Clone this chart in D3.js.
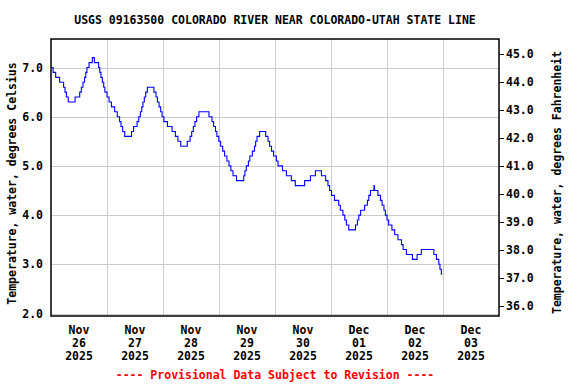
<!DOCTYPE html>
<html>
<head>
<meta charset="utf-8">
<script src="https://cdn.jsdelivr.net/npm/d3@7"></script>
<style>
  html, body { margin: 0; padding: 0; background: #fff; }
  svg { display: block; }
  text { font-family: "DejaVu Sans Mono", "Liberation Mono", monospace; font-weight: bold; font-size: 11.5px; fill: #000; }
</style>
</head>
<body>
<svg id="chart" width="576" height="384"></svg>
<script>
// ---- Data (hours after 2025-11-26 00:00, water temperature in °C; value holds until next time) ----
const hours = [
  0, 0.9, 2.0, 3.7, 5.4, 6.0, 6.6, 7.4, 10.3, 12.3, 13.0, 13.7, 14.4, 14.9, 15.4, 16.3, 17.7, 18.6,
  20.4, 20.9, 21.4, 22.0, 22.6, 23.1, 24.0, 24.9, 25.9, 27.3, 28.4, 29.4, 30.0, 30.7, 31.6, 34.5,
  35.4, 36.9, 37.6, 38.3, 38.9, 39.4, 40.0, 40.6, 41.3, 44.1, 45.0, 45.6, 46.3, 47.0, 47.6, 48.4,
  49.9, 51.9, 53.3, 54.4, 55.6, 58.4, 59.6, 60.3, 61.0, 61.7, 62.4, 63.4, 67.7, 69.0, 69.7, 70.5,
  71.1, 71.9, 72.7, 73.6, 74.4, 75.4, 76.3, 77.1, 78.0, 79.5, 82.6, 83.1, 83.7, 84.6, 85.2, 86.3,
  87.2, 87.7, 88.3, 89.4, 92.0, 93.0, 93.7, 94.5, 95.4, 96.6, 97.3, 99.2, 100.9, 103.0, 104.7, 108.7,
  111.2, 113.3, 115.9, 117.7, 118.7, 119.4, 120.2, 121.5, 123.3, 124.0, 125.1, 125.9, 126.6, 127.6, 130.5, 131.3,
  131.9, 132.7, 134.4, 135.6, 136.2, 136.9, 138.4, 138.6, 140.1, 141.2, 141.9, 142.7, 143.3, 144.0, 144.7, 146.1,
  147.3, 148.7, 150.2, 150.9, 152.3, 154.9, 156.9, 158.7, 164.1, 165.2, 166.2, 166.7, 167.3, 167.6
];
const tempC = [
  7.0, 6.9, 6.8, 6.7, 6.6, 6.5, 6.4, 6.3, 6.4, 6.5, 6.6, 6.7, 6.8, 6.9, 7.0, 7.1, 7.2, 7.1,
  7.0, 6.9, 6.8, 6.7, 6.6, 6.5, 6.4, 6.3, 6.2, 6.1, 6.0, 5.9, 5.8, 5.7, 5.6, 5.7,
  5.8, 5.9, 6.0, 6.1, 6.2, 6.3, 6.4, 6.5, 6.6, 6.5, 6.4, 6.3, 6.2, 6.1, 6.0, 5.9,
  5.8, 5.7, 5.6, 5.5, 5.4, 5.5, 5.6, 5.7, 5.8, 5.9, 6.0, 6.1, 6.0, 5.9, 5.8, 5.7,
  5.6, 5.5, 5.4, 5.3, 5.2, 5.1, 5.0, 4.9, 4.8, 4.7, 4.8, 4.9, 5.0, 5.1, 5.2, 5.3,
  5.4, 5.5, 5.6, 5.7, 5.6, 5.5, 5.4, 5.3, 5.2, 5.1, 5.0, 4.9, 4.8, 4.7, 4.6, 4.7,
  4.8, 4.9, 4.8, 4.7, 4.6, 4.5, 4.4, 4.3, 4.2, 4.1, 4.0, 3.9, 3.8, 3.7, 3.8, 3.9,
  4.0, 4.1, 4.2, 4.3, 4.4, 4.5, 4.6, 4.5, 4.4, 4.3, 4.2, 4.1, 4.0, 3.9, 3.8, 3.7,
  3.6, 3.5, 3.4, 3.3, 3.2, 3.1, 3.2, 3.3, 3.2, 3.1, 3.0, 2.9, 2.8, 2.8
];
const dayLabels = [
  ["Nov", "26", "2025"], ["Nov", "27", "2025"], ["Nov", "28", "2025"], ["Nov", "29", "2025"],
  ["Nov", "30", "2025"], ["Dec", "01", "2025"], ["Dec", "02", "2025"], ["Dec", "03", "2025"]
];
const celsiusTicks = [2, 3, 4, 5, 6, 7];
const fahrenheitTicks = [36, 37, 38, 39, 40, 41, 42, 43, 44, 45];
const titleText = "USGS 09163500 COLORADO RIVER NEAR COLORADO-UTAH STATE LINE";
const leftTitle = "Temperature, water, degrees Celsius";
const rightTitle = "Temperature, water, degrees Fahrenheit";
const footText = "---- Provisional Data Subject to Revision ----";

// ---- Layout ----
const plot = { left: 51, right: 499, top: 39, bottom: 316 };
const t0 = Date.UTC(2025, 10, 26, 0, 0);
const HOUR = 3600 * 1000;
const DAY = 24 * HOUR;

const svg = d3.select("#chart");

const x = d3.scaleUtc()
  .domain([new Date(t0), new Date(t0 + 8 * DAY)])
  .range([plot.left, plot.right]);
const yC = d3.scaleLinear().domain([2, 7]).range([313.5, 67.5]);
const yF = d3.scaleLinear().domain([36, 45]).range([306, 54]);

const data = hours.map((h, i) => ({ t: new Date(t0 + h * HOUR), v: tempC[i] }));

// gridlines
const grid = svg.append("g").attr("stroke", "#cccccc").attr("stroke-width", 1).attr("shape-rendering", "crispEdges");
const midnights = d3.range(1, 8).map(d => new Date(t0 + d * DAY));
grid.selectAll("line.v").data(midnights).join("line")
  .attr("x1", d => Math.round(x(d)) + 0.5).attr("x2", d => Math.round(x(d)) + 0.5)
  .attr("y1", plot.top).attr("y2", plot.bottom);
grid.selectAll("line.h").data(celsiusTicks).join("line")
  .attr("x1", plot.left).attr("x2", plot.right)
  .attr("y1", d => Math.round(yC(d)) + 0.5).attr("y2", d => Math.round(yC(d)) + 0.5);

// data line
svg.append("path")
  .datum(data)
  .attr("fill", "none")
  .attr("stroke", "#0000ff")
  .attr("stroke-width", 1.1)
  .attr("d", d3.line().x(d => x(d.t)).y(d => yC(d.v)).curve(d3.curveStepAfter));

// frame
svg.append("rect")
  .attr("x", plot.left).attr("y", plot.top)
  .attr("width", plot.right - plot.left).attr("height", plot.bottom - plot.top)
  .attr("fill", "none").attr("stroke", "#000").attr("stroke-width", 1.5);

// left axis labels (Celsius)
const leftAxis = d3.axisLeft(yC).tickValues(celsiusTicks).tickFormat(d3.format(".1f")).tickSize(0).tickPadding(8);
const gL = svg.append("g").attr("transform", `translate(${plot.left},0)`).call(leftAxis);
gL.select(".domain").remove();
gL.selectAll("text").attr("font-family", null).attr("font-size", null).style("fill", "#000");

// right axis (Fahrenheit)
const rightAxis = d3.axisRight(yF).tickValues(fahrenheitTicks).tickFormat(d3.format(".1f")).tickSize(5).tickPadding(2);
const gR = svg.append("g").attr("transform", `translate(${plot.right},0)`).call(rightAxis);
gR.select(".domain").remove();
gR.selectAll("line").attr("stroke", "#000");
gR.selectAll("text").attr("font-family", null).attr("font-size", null).style("fill", "#000");

// bottom date labels at noon of each day
const noonDates = dayLabels.map((lbl, i) => ({ t: new Date(t0 + i * DAY + 12 * HOUR), lbl }));
const xl = svg.append("g").selectAll("text").data(noonDates).join("text")
  .attr("text-anchor", "middle")
  .attr("x", d => x(d.t));
xl.each(function (d) {
  const s = d3.select(this);
  d.lbl.forEach((line, j) => {
    s.append("tspan").attr("x", x(d.t)).attr("y", 334 + j * 13).text(line);
  });
});

// titles
svg.append("text").attr("x", (plot.left + plot.right) / 2).attr("y", 24)
  .attr("text-anchor", "middle").text(titleText);
svg.append("text").attr("transform", `translate(16,${(plot.top + plot.bottom) / 2 + 6}) rotate(-90)`)
  .attr("text-anchor", "middle").text(leftTitle);
svg.append("text").attr("transform", `translate(561,${(plot.top + plot.bottom) / 2 + 5}) rotate(-90)`)
  .attr("text-anchor", "middle").text(rightTitle);
svg.append("text").attr("x", (plot.left + plot.right) / 2).attr("y", 379)
  .attr("text-anchor", "middle").style("fill", "#ff0000").text(footText);
</script>
</body>
</html>
